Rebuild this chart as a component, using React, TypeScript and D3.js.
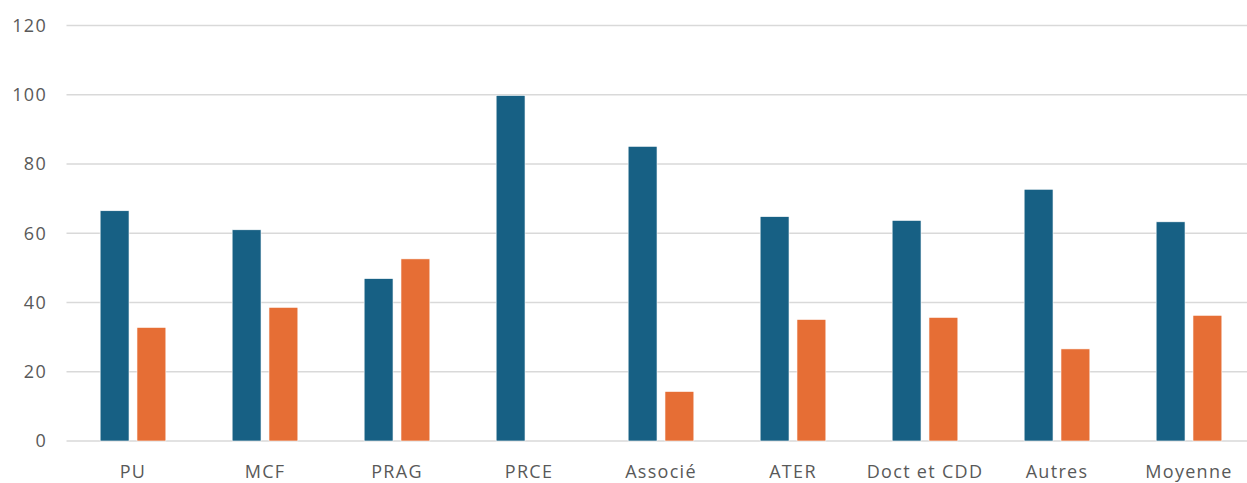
import React from 'react';
import * as d3 from 'd3';

const categories = ['PU', 'MCF', 'PRAG', 'PRCE', 'Associé', 'ATER', 'Doct et CDD', 'Autres', 'Moyenne'];
const seriesBlue = [66.5, 61.0, 46.9, 99.8, 85.1, 64.8, 63.7, 72.7, 63.3];
const seriesOrange = [32.8, 38.6, 52.6, 0, 14.3, 35.1, 35.7, 26.6, 36.3];
const yTicks = [0, 20, 40, 60, 80, 100, 120];

const W = 1247;
const H = 483;
const BLUE = '#176084';
const ORANGE = '#e66e35';
const TEXT = '#595959';

export default function App() {
  const x = d3.scaleBand<string>().domain(categories).range([67, 1255]);
  const y = d3.scaleLinear().domain([0, 120]).range([441, 25.5]);
  const inner = d3.scaleBand<string>().domain(['a', 'b']).range([0, x.bandwidth()]).paddingInner(0.216).paddingOuter(0.9);
  const bw = inner.bandwidth();

  return (
    <svg width={W} height={H} style={{ position: 'absolute', left: 0, top: 0, background: '#fff' }}
      fontFamily="'Open Sans', 'Noto Sans', sans-serif">
      {yTicks.map(t => (
        <g key={t}>
          <line x1={66.5} x2={W} y1={y(t)} y2={y(t)} stroke="#d9d9d9" strokeWidth={1.3} />
          <text x={47} y={y(t)} dy="0.35em" textAnchor="end" fontSize={18} letterSpacing={1.3} fill={TEXT}>{t}</text>
        </g>
      ))}
      {categories.map((c, i) => {
        const x0 = x(c) as number;
        return (
          <g key={c}>
            {seriesBlue[i] > 0 && (
              <rect x={x0 + (inner('a') as number)} y={y(seriesBlue[i])} width={bw}
                height={y(0) - y(seriesBlue[i])} fill={BLUE} stroke="#fff" strokeWidth={0.6} />
            )}
            {seriesOrange[i] > 0 && (
              <rect x={x0 + (inner('b') as number)} y={y(seriesOrange[i])} width={bw}
                height={y(0) - y(seriesOrange[i])} fill={ORANGE} stroke="#fff" strokeWidth={0.6} />
            )}
            <text x={x0 + x.bandwidth() / 2} y={478} textAnchor="middle" fontSize={18} letterSpacing={1.3} fill={TEXT}>{c}</text>
          </g>
        );
      })}
    </svg>
  );
}
